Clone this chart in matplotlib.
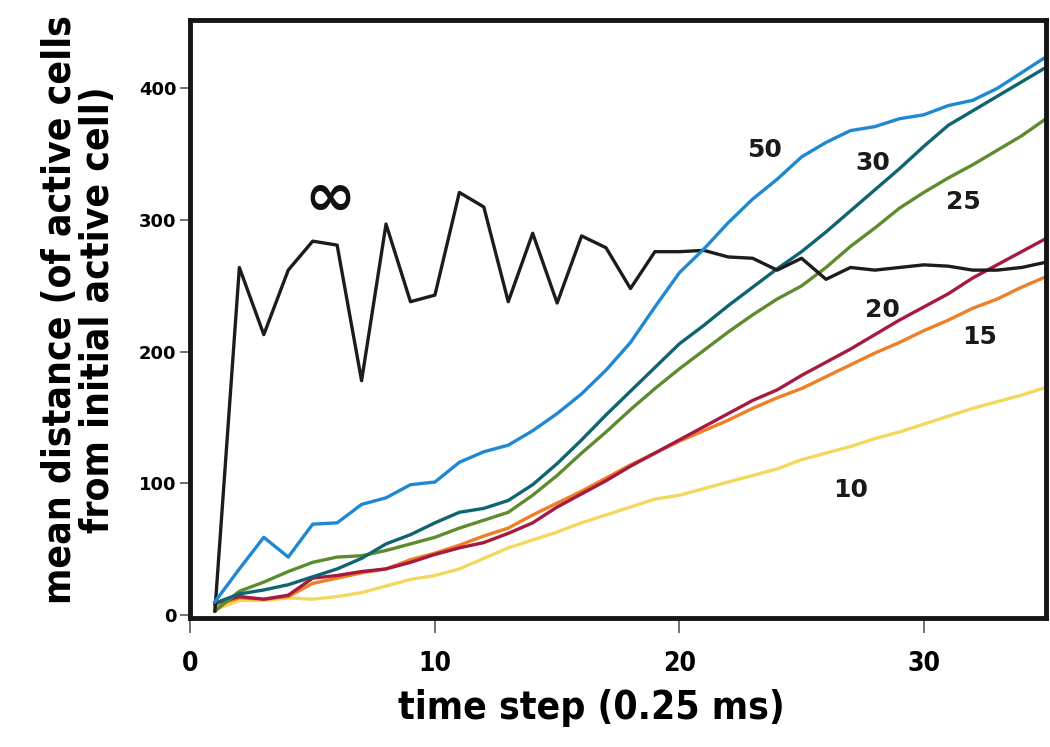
import numpy as np
import matplotlib
matplotlib.use("Agg")
import matplotlib.pyplot as plt
from matplotlib import font_manager as fm

# time steps (0.25 ms each)
steps = np.arange(1, 36)

# mean distance for each setting
d_inf = [3, 264, 213, 262, 284, 281, 178, 297, 238, 243, 321, 310, 238, 290, 237,
         288, 279, 248, 276, 276, 277, 272, 271, 262, 271, 255, 264, 262, 264, 266,
         265, 262, 262, 264, 268]
d50 = [10, 35, 59, 44, 69, 70, 84, 89, 99, 101, 116, 124, 129, 140, 153, 168, 186,
       207, 234, 260, 278, 298, 316, 331, 348, 359, 368, 371, 377, 380, 387, 391,
       400, 412, 424]
d30 = [9, 16, 19, 23, 29, 35, 43, 54, 61, 70, 78, 81, 87, 99, 115, 133, 152, 170,
       188, 206, 220, 235, 249, 263, 276, 291, 307, 323, 339, 356, 372, 383, 394,
       405, 416]
d25 = [3, 18, 25, 33, 40, 44, 45, 49, 54, 59, 66, 72, 78, 91, 106, 123, 139, 156,
       172, 187, 201, 215, 228, 240, 250, 264, 280, 294, 309, 321, 332, 342, 353,
       364, 377]
d20 = [9, 14, 12, 15, 28, 30, 33, 35, 40, 46, 51, 55, 62, 70, 82, 92, 102, 113,
       123, 133, 143, 153, 163, 171, 182, 192, 202, 213, 224, 234, 244, 256, 266,
       276, 286]
d15 = [7, 13, 12, 14, 24, 28, 32, 35, 42, 47, 53, 60, 66, 76, 85, 94, 104, 114,
       123, 132, 140, 148, 157, 165, 172, 181, 190, 199, 207, 216, 224, 233, 240,
       249, 257]
d10 = [4, 11, 11, 13, 12, 14, 17, 22, 27, 30, 35, 43, 51, 57, 63, 70, 76, 82, 88,
       91, 96, 101, 106, 111, 118, 123, 128, 134, 139, 145, 151, 157, 162, 167, 173]

series = [
    (d10, '#f2d85c', '10', 27.0, 95),
    (d15, '#ee7f26', '15', 32.3, 211),
    (d20, '#a51a3e', '20', 28.3, 232),
    (d25, '#5e8b2e', '25', 31.6, 314),
    (d30, '#0f6470', '30', 27.9, 343),
    (d_inf, '#1c1c1c', None, 0, 0),
    (d50, '#1f88d2', '50', 23.5, 353),
]

# pick a narrow bold face for the axis titles if one is around
fonts = fm.fontManager.ttflist
names = set(f.name for f in fonts)
if 'Liberation Sans Narrow' in names:
    lab_font = dict(family='Liberation Sans Narrow', fontsize=31)
    narrow = dict(family='Liberation Sans Narrow')
elif any(f.name == 'DejaVu Sans' and 'condensed' in str(f.stretch) for f in fonts):
    lab_font = dict(family='DejaVu Sans', fontstretch='condensed', fontsize=28)
    narrow = dict(family='DejaVu Sans', fontstretch='condensed')
else:
    lab_font = dict(family='Liberation Sans', fontsize=28)
    narrow = dict(family='Liberation Sans')

fig = plt.figure(figsize=(10.5, 7.47), dpi=100)
ax = fig.add_axes([0.1814, 0.1732, 0.8148, 0.80])

for d, c, lab, lx, ly in series:
    ax.plot(steps, d, c=c, lw=2.4)
    if lab:
        ax.text(lx, ly, lab, ha='center', va='center', fontsize=18,
                fontweight='bold', family='DejaVu Sans', color='#1a1a1a')

ax.text(5.7, 316, '\u221e', ha='center', va='center', fontsize=44,
        fontweight='bold', family='DejaVu Sans', color='#111111')

ax.set_xlim(0, 35)
ax.set_ylim(-2, 452)
ax.set_xticks([0, 10, 20, 30])
ax.set_yticks([0, 100, 200, 300, 400])

for s in ax.spines.values():
    s.set_linewidth(3.5)
    s.set_color('#151515')

ax.tick_params(axis='y', direction='out', length=7, width=1.3, color='#666666',
               pad=3, labelsize=13)
ax.tick_params(axis='x', direction='out', length=11, width=1.3, color='#666666',
               pad=13, labelsize=19)
for t in ax.get_yticklabels():
    t.set_fontweight('bold')
    t.set_family('DejaVu Sans')
for t in ax.get_xticklabels():
    t.set_fontweight('bold')
    t.set_family(narrow['family'])
    if 'fontstretch' in narrow:
        t.set_fontstretch(narrow['fontstretch'])

fig.text(0.563, 0.052, 'time step (0.25 ms)', ha='center', va='center',
         fontweight='bold', **lab_font)
fig.text(0.075, 0.585, 'mean distance (of active cells\nfrom initial active cell)',
         rotation=90, ha='center', va='center', multialignment='center',
         linespacing=1.0, fontweight='bold', **lab_font)

plt.savefig('out.png', dpi=100)
